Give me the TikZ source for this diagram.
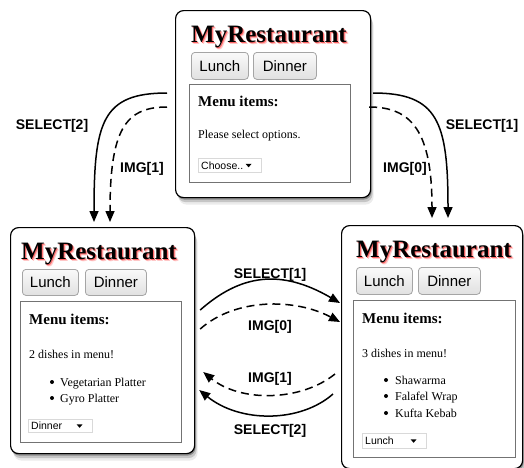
\documentclass[tikz,border=0pt]{standalone}
\usepackage{fontspec}
\setmainfont{Liberation Serif}
\newfontfamily\arialf{Liberation Sans}
\usetikzlibrary{arrows.meta,shadows}

\newcommand\glowtxt[1]{\makebox[0pt][l]{\kern2pt\raisebox{-2pt}{\color{red!22}#1}}\makebox[0pt][l]{\kern1pt\raisebox{-1pt}{\color{red!60}#1}}#1}

\definecolor{boxgray}{RGB}{115,115,115}
\definecolor{btnborder}{RGB}{165,165,165}

\tikzset{
  panel/.style={draw=black, line width=1.2pt, rounded corners=8pt, fill=white, anchor=north west, inner sep=0pt,
    general shadow={fill=black, opacity=0.08, shadow xshift=3pt, shadow yshift=-7pt},
    general shadow={fill=black, opacity=0.16, shadow xshift=2pt, shadow yshift=-4.5pt},
    general shadow={fill=black, opacity=0.30, shadow xshift=1pt, shadow yshift=-2pt}},
  ttl/.style={anchor=base west, inner sep=0pt, font=\bfseries\fontsize{25}{25}\selectfont},
  btn/.style={draw=btnborder, line width=0.8pt, rounded corners=3.5pt, top color=gray!4, bottom color=gray!24,
    anchor=north west, inner sep=0pt, font=\arialf\fontsize{15}{15}\selectfont},
  ibox/.style={draw=boxgray, line width=1.3pt, fill=white, anchor=north west, inner sep=0pt},
  hdr/.style={anchor=base west, inner sep=0pt, font=\bfseries\fontsize{15}{15}\selectfont},
  txt/.style={anchor=base west, inner sep=0pt, font=\fontsize{12}{12}\selectfont},
  dd/.style={draw=gray!30, line width=0.6pt, fill=white, anchor=north west, inner sep=0pt},
  ddtxt/.style={anchor=west, inner sep=0pt, font=\arialf\fontsize{10.5}{10.5}\selectfont},
  lbl/.style={inner sep=0pt, font=\arialf\bfseries\fontsize{14}{14}\selectfont},
  sel/.style={draw=black, line width=1.5pt, -{Triangle[length=11pt,width=9pt]}},
  img/.style={draw=black, line width=1.5pt, dash pattern=on 8pt off 5pt, -{Triangle[length=11pt,width=9pt]}},
}

\newcommand\ddarrow[1]{\fill ([xshift=-13pt]#1.east) ++(-3pt,1.5pt) -- ++(6pt,0) -- ++(-3pt,-3.5pt) -- cycle;}

\begin{document}
\begin{tikzpicture}[x=1pt,y=-1pt]
\useasboundingbox (0,0) rectangle (524,467);
\clip (0,0) rectangle (524,467);

% ---------- top panel ----------
\node[panel, minimum width=195pt, minimum height=187pt] (pTop) at (175,10) {};
\begin{scope}[shift={(175,10)}]
  \node[ttl] (tTitle) at (16,32) {\glowtxt{MyRestaurant}};
  \node[btn, minimum width=57pt, minimum height=27pt] (tLunch) at (16,42) {Lunch};
  \node[btn, minimum width=63pt, minimum height=27pt] (tDinner) at (78,42) {Dinner};
  \node[ibox, minimum width=161pt, minimum height=98pt] (tBox) at (14,74) {};
  \node[hdr] (tHdr) at (23,96) {Menu items:};
  \node[txt] (tMsg) at (23,128) {Please select options.};
  \node[dd, minimum width=63pt, minimum height=14pt] (tDD) at (23,148) {};
  \node[ddtxt] (tDDt) at ([xshift=3pt]tDD.west) {Choose..};
  \ddarrow{tDD}
\end{scope}

% ---------- left panel ----------
\node[panel, minimum width=184pt, minimum height=226pt] (pLeft) at (10,227) {};
\begin{scope}[shift={(10,227)}]
  \node[ttl] (lTitle) at (11,32) {\glowtxt{MyRestaurant}};
  \node[btn, minimum width=56pt, minimum height=26pt] (lLunch) at (12,42) {Lunch};
  \node[btn, minimum width=61pt, minimum height=26pt] (lDinner) at (75,42) {Dinner};
  \node[ibox, minimum width=161pt, minimum height=141pt] (lBox) at (10,74) {};
  \node[hdr] (lHdr) at (19,97) {Menu items:};
  \node[txt] (lMsg) at (19,131) {2 dishes in menu!};
  \fill (42,155) circle (2pt);
  \node[txt] (lI1) at (50,159) {Vegetarian Platter};
  \fill (42,171) circle (2pt);
  \node[txt] (lI2) at (50,175) {Gyro Platter};
  \node[dd, minimum width=64pt, minimum height=13pt] (lDD) at (18,192) {};
  \node[ddtxt] (lDDt) at ([xshift=3pt]lDD.west) {Dinner};
  \ddarrow{lDD}
\end{scope}

% ---------- right panel ----------
\node[panel, minimum width=181pt, minimum height=243pt] (pRight) at (341,225) {};
\begin{scope}[shift={(341,225)}]
  \node[ttl] (rTitle) at (15,32) {\glowtxt{MyRestaurant}};
  \node[btn, minimum width=56pt, minimum height=27pt] (rLunch) at (15,42) {Lunch};
  \node[btn, minimum width=62pt, minimum height=27pt] (rDinner) at (77,42) {Dinner};
  \node[ibox, minimum width=162pt, minimum height=157pt] (rBox) at (12,75) {};
  \node[hdr] (rHdr) at (21,98) {Menu items:};
  \node[txt] (rMsg) at (21,132) {3 dishes in menu!};
  \fill (45,155) circle (2pt);
  \node[txt] (rI1) at (54,159) {Shawarma};
  \fill (45,171) circle (2pt);
  \node[txt] (rI2) at (54,175) {Falafel Wrap};
  \fill (45,188) circle (2pt);
  \node[txt] (rI3) at (54,192) {Kufta Kebab};
  \node[dd, minimum width=64pt, minimum height=15pt] (rDD) at (21,208) {};
  \node[ddtxt] (rDDt) at ([xshift=3pt]rDD.west) {Lunch};
  \ddarrow{rDD}
\end{scope}

% ---------- connectors: top -> left ----------
\draw[sel] ([xshift=-8pt,yshift=-83pt]pTop.north west) .. controls (102,93) and (94,122) .. ([xshift=84pt,yshift=5pt]pLeft.north west);
\draw[img] ([xshift=-8pt,yshift=-97pt]pTop.north west) .. controls (125,107) and (110,130) .. ([xshift=100pt,yshift=5pt]pLeft.north west);
% ---------- connectors: top -> right ----------
\draw[sel] ([xshift=2pt,yshift=-83pt]pTop.north east) .. controls (438,93) and (448,122) .. ([xshift=107pt,yshift=7pt]pRight.north west);
\draw[img] ([xshift=-2pt,yshift=-97pt]pTop.north east) .. controls (412,107) and (432,132) .. ([xshift=91pt,yshift=7pt]pRight.north west);
% ---------- connectors: left <-> right ----------
\draw[sel] ([xshift=5pt,yshift=-83pt]pLeft.north east) .. controls (240,275) and (280,268) .. ([xshift=-1pt,yshift=-78pt]pRight.north west);
\draw[img] ([xshift=5pt,yshift=-102pt]pLeft.north east) .. controls (235,298) and (295,298) .. ([xshift=-1pt,yshift=-97pt]pRight.north west);
\draw[img] ([xshift=-6pt,yshift=-149pt]pRight.north west) .. controls (300,402) and (240,402) .. ([xshift=8pt,yshift=-145pt]pLeft.north east);
\draw[sel] ([xshift=-8pt,yshift=-169pt]pRight.north west) .. controls (300,423) and (240,423) .. ([xshift=4pt,yshift=-163pt]pLeft.north east);

% ---------- labels ----------
\node[lbl] (lab1) at (52,126) {SELECT[2]};
\node[lbl] (lab2) at (142,169) {IMG[1]};
\node[lbl] (lab3) at (482,126) {SELECT[1]};
\node[lbl] (lab4) at (405,169) {IMG[0]};
\node[lbl] (lab5) at (270,275) {SELECT[1]};
\node[lbl] (lab6) at (270,327) {IMG[0]};
\node[lbl] (lab7) at (270,379) {IMG[1]};
\node[lbl] (lab8) at (270,431) {SELECT[2]};
\end{tikzpicture}
\end{document}
